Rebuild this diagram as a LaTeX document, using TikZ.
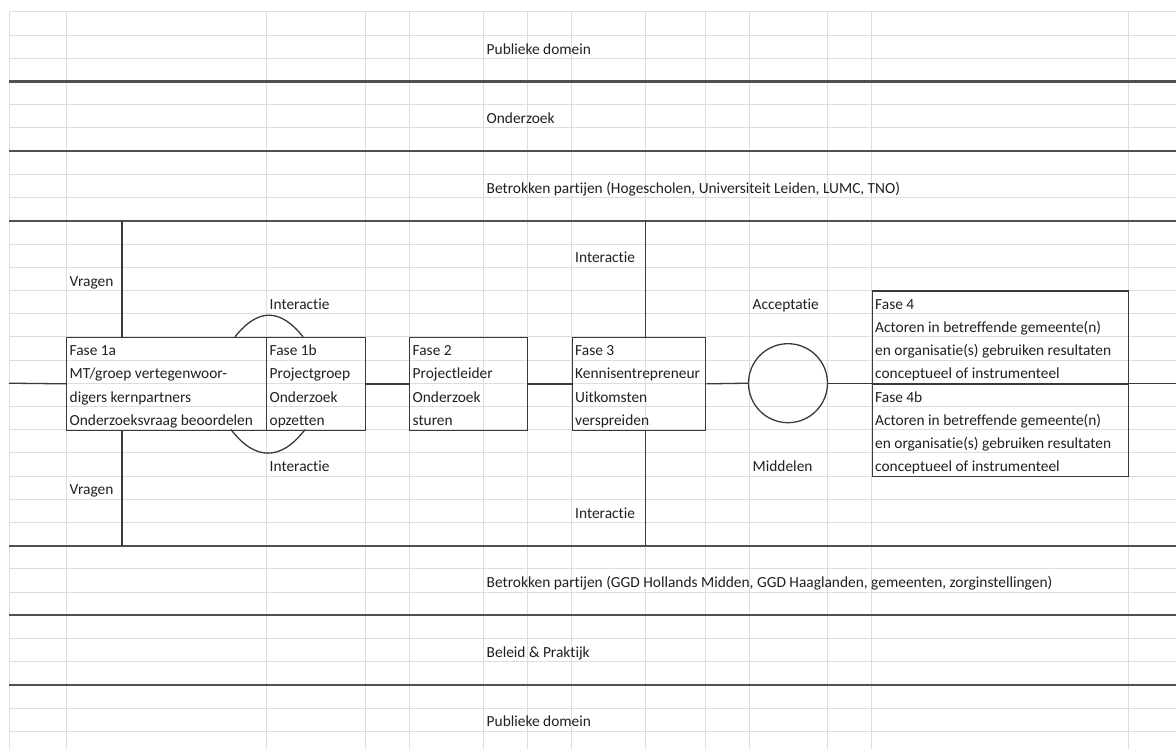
\documentclass[tikz,border=0pt]{standalone}
\usepackage{fontspec}
\setmainfont{Carlito}[Ligatures={NoCommon,NoContextual}]
\definecolor{gridc}{HTML}{DDDDDD}
\definecolor{linec}{HTML}{3A3A3A}
\definecolor{thickc}{HTML}{505050}
\definecolor{txtc}{HTML}{202020}
\newcommand\celltext[4]{\node[txt] (#1) at ({#2+3.5},{12+23.2*(#3+1)-4.3}) {#4};}
\begin{document}
\begin{tikzpicture}[x=1pt,y=-1pt,
  txt/.style={anchor=base west, inner sep=0pt, text=txtc, font=\fontsize{15.4}{18}\selectfont},
  gridline/.style={draw=gridc, line width=1pt},
  sepline/.style={draw=thickc, line width=2.2pt},
  ln/.style={draw=linec, line width=1.3pt},
  bx/.style={draw=linec, line width=1.3pt, rectangle, inner sep=0pt, anchor=north west, minimum height=92.8pt}]
\fill[white] (0,0) rectangle (1176,749);
\useasboundingbox (0,0) rectangle (1176,749);
% spreadsheet grid
\foreach \k in {0,...,31} \draw[gridline] (9,{12+23.2*\k}) -- (1176,{12+23.2*\k});
\foreach \c in {9,66,266,365,409,483,527,571.5,645.5,705,749,827.5,871.5,1128} \draw[gridline] (\c,12) -- (\c,749);
% band separators
\foreach \k in {3,6,9,23,26,29} \draw[sepline] (9,{12+23.2*\k}) -- (1176,{12+23.2*\k});
% boxes
\node[bx, minimum width=200pt] (f1a) at (66,336.8) {};
\node[bx, minimum width=99pt] (f1b) at (266,336.8) {};
\node[bx, minimum width=118pt] (f2) at (409,336.8) {};
\node[bx, minimum width=133.5pt] (f3) at (571.5,336.8) {};
\node[bx, minimum width=256.5pt] (f4) at (871.5,290.4) {};
\node[bx, minimum width=256.5pt] (f4b) at (871.5,383.2) {};
\node[circle, draw=linec, line width=1.3pt, minimum size=79pt, inner sep=0pt] (circ) at (788,383.2) {};
% coordinates
\coordinate (L) at (9,383.2);
\coordinate (R) at (1176,383.2);
\coordinate (v1t) at (122,220.8);
\coordinate (v1b) at (122,545.6);
\coordinate (v3t) at (645.5,220.8);
\coordinate (v3b) at (645.5,545.6);
\coordinate (a1) at (235,336.8);
\coordinate (a2) at (303,336.8);
\coordinate (b1) at (231,429.6);
\coordinate (b2) at (305,429.6);
% connectors
\draw[ln] (L) -- (f1a.west);
\draw[ln] (f1b.east) -- (f2.west);
\draw[ln] (f2.east) -- (f3.west);
\draw[ln] (f3.east) -- (circ.west);
\draw[ln] (circ.east) -- (R);
\draw[ln] (v1t) -- (v1t |- f1a.north);
\draw[ln] (v1b) -- (v1b |- f1a.south);
\draw[ln] (v3t) -- (v3t |- f3.north);
\draw[ln] (v3b) -- (v3b |- f3.south);
\draw[ln] (a1) .. controls (258,308) and (280,308) .. (a2);
\draw[ln] (b1) .. controls (255,461) and (281,461) .. (b2);
% texts
\celltext{t1}{483}{1}{Publieke domein}
\celltext{t2}{483}{4}{Onderzoek}
\celltext{t3}{483}{7}{Betrokken partijen (Hogescholen, Universiteit Leiden, LUMC, TNO)}
\celltext{t4}{571.5}{10}{Interactie}
\celltext{t5}{66}{11}{Vragen}
\celltext{t6}{266}{12}{Interactie}
\celltext{t7}{749}{12}{Acceptatie}
\celltext{f4a}{871.5}{12}{Fase 4}
\celltext{f4c}{871.5}{13}{Actoren in betreffende gemeente(n)}
\celltext{f4d}{871.5}{14}{en organisatie(s) gebruiken resultaten}
\celltext{f4e}{871.5}{15}{conceptueel of instrumenteel}
\celltext{f4f}{871.5}{16}{Fase 4b}
\celltext{f4g}{871.5}{17}{Actoren in betreffende gemeente(n)}
\celltext{f4h}{871.5}{18}{en organisatie(s) gebruiken resultaten}
\celltext{f4i}{871.5}{19}{conceptueel of instrumenteel}
\celltext{p1a}{66}{14}{Fase 1a}
\celltext{p1b}{66}{15}{MT/groep vertegenwoor-}
\celltext{p1c}{66}{16}{digers kernpartners}
\celltext{p1d}{66}{17}{Onderzoeksvraag beoordelen}
\celltext{q1a}{266}{14}{Fase 1b}
\celltext{q1b}{266}{15}{Projectgroep}
\celltext{q1c}{266}{16}{Onderzoek}
\celltext{q1d}{266}{17}{opzetten}
\celltext{p2a}{409}{14}{Fase 2}
\celltext{p2b}{409}{15}{Projectleider}
\celltext{p2c}{409}{16}{Onderzoek}
\celltext{p2d}{409}{17}{sturen}
\celltext{p3a}{571.5}{14}{Fase 3}
\celltext{p3b}{571.5}{15}{Kennisentrepreneur}
\celltext{p3c}{571.5}{16}{Uitkomsten}
\celltext{p3d}{571.5}{17}{verspreiden}
\celltext{t8}{266}{19}{Interactie}
\celltext{t9}{749}{19}{Middelen}
\celltext{t10}{66}{20}{Vragen}
\celltext{t11}{571.5}{21}{Interactie}
\celltext{t12}{483}{24}{Betrokken partijen (GGD Hollands Midden, GGD Haaglanden, gemeenten, zorginstellingen)}
\celltext{t13}{483}{27}{Beleid \& Praktijk}
\celltext{t14}{483}{30}{Publieke domein}
\end{tikzpicture}
\end{document}
